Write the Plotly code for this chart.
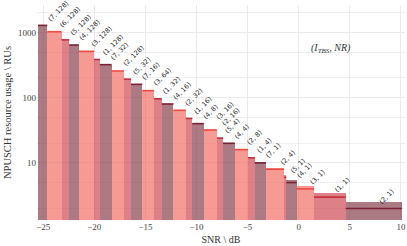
import numpy as np
import plotly.graph_objects as go

# SNR edges (dB) of each bar step
snr_edges = [-25.5, -24.6, -23.2, -22.45, -21.5, -20.0, -19.45, -18.3, -17.1, -16.4,
             -15.3, -14.15, -13.4, -12.25, -11.05, -10.4, -9.3, -8.0, -7.4, -6.25,
             -4.95, -4.3, -3.2, -1.45, -1.2, -0.2, 1.5, 4.6, 10.1]
# NPUSCH resource usage (RUs) for each step
ru_usage = [1280, 1024, 768, 640, 512, 384, 320, 256, 192, 160, 128, 96, 80, 64,
            48, 40, 32, 24, 20, 16, 12, 10, 8, 6, 5, 4, 3, 2]
# (I_TBS, NR) label(s) of each step
config_labels = ["(7, 128)", "(6, 128)", "(5, 128)", "(4, 128)", "(3, 128)", "(1, 128)",
                 "(7, 32)", "(2, 128)", "(5, 32)", "(7, 16)", "(3, 64)", "(1, 32)",
                 "(4, 16)", "(2, 32)", "(1, 16)", "(4, 8)", "(3, 16)<br>(2, 16)", "(5, 4)",
                 "(4, 4)", "(2, 8)", "(1, 4)", "(7, 1)", "(2, 4)", "(5, 1)", "(4, 1)",
                 "(3, 1)", "(1, 1)", "(2, 1)"]
x_ticks = [-25, -20, -15, -10, -5, 0, 5, 10]
y_ticks = [10, 100, 1000]
y_minor = [2, 5, 20, 50, 200, 500, 2000]

edges = np.array(snr_edges)
centers = (edges[:-1] + edges[1:]) / 2
widths = edges[1:] - edges[:-1]

fills = ["rgba(128,50,65,0.65)", "rgba(243,100,90,0.65)", "rgba(203,60,70,0.65)"]
tops = ["rgb(120,35,55)", "rgb(236,75,65)", "rgb(195,45,58)"]

fig = go.Figure()
n = len(ru_usage)
fig.add_trace(go.Bar(
    x=centers, y=ru_usage, width=widths, base=0.5,
    marker=dict(color=[fills[i % 3] for i in range(n)], line=dict(width=0)),
    hoverinfo="skip", showlegend=False))

for k in range(3):
    xs, ys = [], []
    for i in range(k, n, 3):
        xs += [edges[i], edges[i + 1], None]
        ys += [ru_usage[i], ru_usage[i], None]
    fig.add_trace(go.Scatter(x=xs, y=ys, mode="lines",
                             line=dict(color=tops[k], width=1.6),
                             hoverinfo="skip", showlegend=False))

for i in range(n):
    fig.add_annotation(x=centers[i], y=np.log10(ru_usage[i]), text=config_labels[i],
                       textangle=-45, showarrow=False, xanchor="left", yanchor="bottom",
                       xshift=1, yshift=0,
                       font=dict(family="DejaVu Sans", size=6.5, color="#2a2a2a"))

fig.add_annotation(x=3.2, y=2.76, text="<i>(I<sub>TBS</sub>, NR)</i>", showarrow=False,
                   font=dict(family="Liberation Serif", size=10, color="#333333"))

fig.update_layout(
    width=407, height=246,
    margin=dict(l=37, r=2, t=5, b=26),
    plot_bgcolor="white", paper_bgcolor="white",
    bargap=0,
    font=dict(family="Liberation Serif", size=9, color="#444444"),
)
fig.update_xaxes(range=[-25.6, 10.4], tickvals=x_ticks, showgrid=True,
                 gridcolor="#EBEBEB", gridwidth=1, zeroline=False, showline=False,
                 ticks="", automargin=False,
                 title=dict(text="SNR \\ dB", standoff=4,
                            font=dict(size=10, color="#333333")))
fig.update_yaxes(type="log", range=[0.126, 3.419], tickvals=y_ticks,
                 ticktext=[str(v) for v in y_ticks], showgrid=True,
                 gridcolor="#EBEBEB", gridwidth=1, zeroline=False, showline=False,
                 ticks="", automargin=False,
                 minor=dict(tickvals=y_minor, showgrid=True, gridcolor="#EFEFEF", gridwidth=1),
                 title=dict(text="NPUSCH resource usage \\ RUs", standoff=4,
                            font=dict(size=10.5, color="#333333")))

fig.write_html("out.html", config={"displayModeBar": False},
               post_script="document.body.style.margin='0';document.body.style.overflow='hidden';")
